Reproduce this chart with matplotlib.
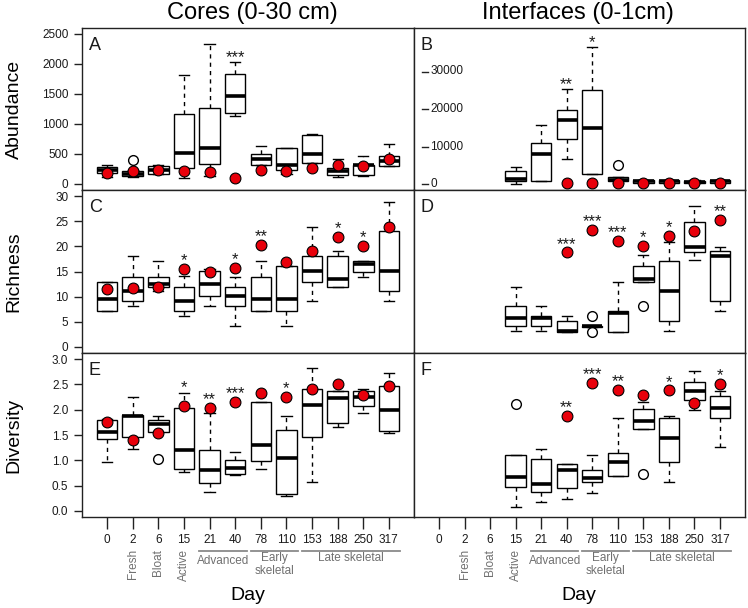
import numpy as np
import matplotlib.pyplot as plt
from matplotlib import transforms

plt.rcParams['font.family'] = ['Liberation Sans', 'DejaVu Sans']

days = ['0', '2', '6', '15', '21', '40', '78', '110', '153', '188', '250', '317']
pos = np.arange(1, 13)
n = None

# A - abundance, cores
A_lo = [120, 115, 160, 105, 130, 1130, 320, 165, 345, 120, 140, 300]
A_q1 = [180, 130, 165, 275, 335, 1180, 320, 235, 345, 150, 150, 300]
A_med = [235, 165, 230, 510, 605, 1470, 420, 320, 495, 220, 320, 380]
A_q3 = [290, 220, 305, 1160, 1270, 1830, 500, 600, 820, 270, 325, 470]
A_hi = [310, 235, 320, 1810, 2330, 2030, 635, 600, 840, 410, 470, 675]
A_red = [185, 225, 240, 225, 205, 100, 235, 215, 275, 310, 300, 410]
A_star = ['', '', '', '', '', '***', '', '', '', '', '', '']
A_out = {1: [400]}

# B - abundance, interfaces
B_lo = [n, n, n, 100, 900, 6750, 2800, 400, 150, 150, 150, 150]
B_q1 = [n, n, n, 730, 910, 12100, 2800, 700, 400, 400, 350, 400]
B_med = [n, n, n, 1450, 7900, 17000, 14850, 1000, 800, 800, 650, 750]
B_q3 = [n, n, n, 3430, 10900, 19700, 25000, 1900, 1000, 1000, 900, 1000]
B_hi = [n, n, n, 4420, 15850, 25300, 36500, 1900, 1200, 1200, 1100, 1200]
B_red = [n, n, n, n, n, 380, 190, 270, 300, 350, 250, 300]
B_star = ['', '', '', '', '', '**', '*', '', '', '', '', '']
B_out = {7: [5200]}

# C - richness, cores
C_lo = [7.1, 8.1, 11.05, 6.1, 8.1, 4.1, 7.1, 4.1, 9.1, 12.0, 14.0, 9.1]
C_q1 = [7.1, 9.1, 12.0, 7.1, 10.1, 8.1, 7.1, 7.1, 13.0, 12.0, 15.0, 11.05]
C_med = [9.6, 11.05, 12.6, 9.1, 12.6, 10.1, 9.6, 9.6, 15.1, 13.55, 16.5, 15.1]
C_q3 = [13.0, 14.0, 14.0, 12.0, 15.1, 12.0, 14.0, 16.0, 18.0, 18.0, 17.0, 23.0]
C_hi = [13.0, 18.0, 17.0, 14.2, 15.5, 14.0, 17.0, 16.0, 23.9, 19.0, 17.0, 28.8]
C_red = [11.6, 11.7, 12.0, 15.5, 15.0, 15.7, 20.3, 16.8, 19.1, 21.8, 20.1, 23.9]
C_star = ['', '', '', '*', '', '*', '**', '', '', '*', '*', '']
C_out = {}

# D - richness, interfaces
D_lo = [n, n, n, 3.2, 3.2, 3.0, 4.0, 3.0, 13.0, 3.2, 17.3, 7.1]
D_q1 = [n, n, n, 4.1, 4.1, 3.0, 4.0, 3.0, 13.0, 5.1, 18.9, 9.1]
D_med = [n, n, n, 5.8, 5.7, 3.2, 4.1, 6.8, 13.55, 11.05, 19.9, 18.0]
D_q3 = [n, n, n, 8.1, 6.1, 5.1, 4.2, 7.1, 16.0, 17.0, 24.9, 19.0]
D_hi = [n, n, n, 12.0, 8.1, 6.1, 4.2, 12.9, 18.2, 20.8, 28.0, 19.9]
D_red = [n, n, n, n, n, 18.8, 23.3, 21.1, 20.1, 22.1, 23.1, 25.3]
D_star = ['', '', '', '', '', '***', '***', '***', '*', '*', '', '**']
D_out = {6: [6.1, 3.0], 8: [8.1]}

# E - diversity, cores
E_lo = [0.97, 1.23, 1.55, 0.77, 0.38, 0.71, 0.83, 0.29, 0.58, 1.66, 1.93, 1.53]
E_q1 = [1.43, 1.47, 1.55, 0.83, 0.55, 0.73, 0.99, 0.33, 1.47, 1.73, 2.08, 1.57]
E_med = [1.55, 1.88, 1.71, 1.20, 0.81, 0.85, 1.30, 1.05, 2.09, 2.23, 2.25, 2.00]
E_q3 = [1.79, 1.89, 1.79, 2.03, 1.21, 1.00, 2.15, 1.60, 2.40, 2.37, 2.37, 2.47]
E_hi = [1.82, 2.25, 1.88, 2.33, 1.93, 1.16, 2.15, 1.87, 2.83, 2.37, 2.40, 2.73]
E_red = [1.76, 1.41, 1.53, 2.08, 2.03, 2.16, 2.33, 2.25, 2.41, 2.50, 2.30, 2.47]
E_star = ['', '', '', '*', '**', '***', '', '*', '', '', '', '']
E_out = {2: [1.03]}

# F - diversity, interfaces
F_lo = [n, n, n, 0.08, 0.18, 0.23, 0.35, 0.69, 1.61, 0.58, 1.99, 1.27]
F_q1 = [n, n, n, 0.48, 0.38, 0.45, 0.57, 0.69, 1.61, 0.96, 2.20, 1.83]
F_med = [n, n, n, 0.68, 0.53, 0.80, 0.65, 0.97, 1.77, 1.45, 2.37, 2.03]
F_q3 = [n, n, n, 1.11, 1.03, 0.93, 0.80, 1.15, 2.01, 1.83, 2.55, 2.28]
F_hi = [n, n, n, 1.11, 1.23, 0.93, 1.11, 1.83, 2.16, 1.88, 2.77, 2.37]
F_red = [n, n, n, n, n, 1.87, 2.53, 2.39, 2.30, 2.38, 2.13, 2.51]
F_star = ['', '', '', '', '', '**', '***', '**', '', '*', '', '*']
F_out = {3: [2.11], 8: [0.73]}

stage_rot = [(1, 'Fresh'), (2, 'Bloat'), (3, 'Active')]
stage_grp = [('Advanced', 4, 5, -31.7), ('Early\nskeletal', 6, 7, -34.2), ('Late skeletal', 8, 11, -29.5)]

W, H = 748, 608
fig = plt.figure(figsize=(W / 100, H / 100), dpi=100)

def box(x0, y0, x1, y1):
    return fig.add_axes([x0 / W, 1 - y1 / H, (x1 - x0) / W, (y1 - y0) / H])

rows = [(28, 190), (190, 353), (353, 517)]
axA, axB = box(82, 28, 414, 190), box(414, 28, 745, 190)
axC, axD = box(82, 190, 414, 353), box(414, 190, 745, 353)
axE, axF = box(82, 353, 414, 517), box(414, 353, 745, 517)

ink = '#1a1a1a'


def draw_panel(ax, lo, q1, med, q3, hi, red, stars, outl, ylim, letter):
    stats, where = [], []
    for i in range(12):
        if med[i] is None:
            continue
        stats.append(dict(whislo=lo[i], q1=q1[i], med=med[i], q3=q3[i],
                          whishi=hi[i], fliers=outl.get(i, [])))
        where.append(pos[i])
    ax.bxp(stats, positions=where, widths=0.8, capwidths=0.4, patch_artist=True,
           boxprops=dict(facecolor='white', edgecolor='black', lw=1.0),
           medianprops=dict(color='black', lw=2.6, solid_capstyle='butt'),
           whiskerprops=dict(color='black', lw=1.0, ls=(0, (3, 3))),
           capprops=dict(color='black', lw=1.0),
           flierprops=dict(marker='o', mfc='white', mec='black', ms=7, mew=1.0))
    rx = [pos[i] for i in range(12) if red[i] is not None]
    ry = [v for v in red if v is not None]
    ax.plot(rx, ry, 'o', color='#e8000b', mec='black', mew=0.8, ms=7.8, zorder=5)
    for i, s in enumerate(stars):
        if not s:
            continue
        if red[i] is not None and red[i] >= hi[i]:
            anchor, off = red[i], 2.7
        else:
            anchor, off = hi[i], 0.3
        ax.annotate(s, (pos[i], anchor), xytext=(0, off), textcoords='offset points',
                    ha='center', va='baseline', fontsize=12, color=ink)
    ax.set_xlim(0.02, 12.98)
    ax.set_ylim(*ylim)
    ax.text(0.021, 0.945, letter, transform=ax.transAxes, ha='left', va='top',
            fontsize=13, color=ink)
    for sp in ax.spines.values():
        sp.set_linewidth(1.0)
        sp.set_color('#222222')


draw_panel(axA, A_lo, A_q1, A_med, A_q3, A_hi, A_red, A_star, A_out, (-100, 2600), 'A')
draw_panel(axB, B_lo, B_q1, B_med, B_q3, B_hi, B_red, B_star, B_out, (-1600, 41600), 'B')
draw_panel(axC, C_lo, C_q1, C_med, C_q3, C_hi, C_red, C_star, C_out, (-1.2, 31.2), 'C')
draw_panel(axD, D_lo, D_q1, D_med, D_q3, D_hi, D_red, D_star, D_out, (-1.2, 31.2), 'D')
draw_panel(axE, E_lo, E_q1, E_med, E_q3, E_hi, E_red, E_star, E_out, (-0.12, 3.12), 'E')
draw_panel(axF, F_lo, F_q1, F_med, F_q3, F_hi, F_red, F_star, F_out, (-0.12, 3.12), 'F')

# left y axes
axA.set_yticks([0, 500, 1000, 1500, 2000, 2500])
axC.set_yticks([0, 5, 10, 15, 20, 25, 30])
e_ticks = [0.0, 0.5, 1.0, 1.5, 2.0, 2.5, 3.0]
axE.set_yticks(e_ticks, [f'{v:.1f}' for v in e_ticks])
for ax in (axA, axC, axE):
    ax.tick_params(axis='y', length=5.8, width=1.0, pad=4, labelsize=8.5,
                   labelcolor=ink, color='#222222')

# B has its own axis drawn inside the panel
for ax in (axB, axD, axF):
    ax.set_yticks([])
trB = transforms.blended_transform_factory(axB.transAxes, axB.transData)
for v in [0, 10000, 20000, 30000]:
    axB.plot([0.024, 0.043], [v, v], transform=trB, color='#222222', lw=1.0)
    axB.text(0.049, v, str(v), transform=trB, ha='left', va='center',
             fontsize=8.5, color=ink)

for ax in (axA, axB, axC, axD):
    ax.set_xticks([])

grey = '#707070'
for ax in (axE, axF):
    ax.set_xticks(pos, days)
    ax.tick_params(axis='x', length=8.6, width=1.0, pad=3.5, labelsize=8.5,
                   labelcolor=ink, color='#222222')
    tr = transforms.blended_transform_factory(ax.transData, ax.transAxes)
    for i, lab in stage_rot:
        ax.annotate(lab, (pos[i], 0), xycoords=tr, xytext=(0, -23),
                    textcoords='offset points', rotation=90, ha='center',
                    va='top', fontsize=8.5, color=grey)
    for lab, a, b, dy in stage_grp:
        x0, x1 = pos[a] - 0.4, pos[b] + 0.45
        ax.plot([x0, x1], [-0.209, -0.209], transform=tr, color='#8a8a8a',
                lw=1.3, clip_on=False)
        ax.annotate(lab, ((x0 + x1) / 2, 0), xycoords=tr, xytext=(0, dy),
                    textcoords='offset points', ha='center', va='center',
                    fontsize=8.5, color=grey, linespacing=1.05)

fig.text(252 / W, 1 - 13 / H, 'Cores (0-30 cm)', ha='center', va='center', fontsize=17)
fig.text(578 / W, 1 - 13 / H, 'Interfaces (0-1cm)', ha='center', va='center', fontsize=17)
for lab, (y0, y1) in zip(['Abundance', 'Richness', 'Diversity'], rows):
    fig.text(14 / W, 1 - (y0 + y1) / 2 / H, lab, rotation=90, ha='center',
             va='center', fontsize=14)
fig.text(248 / W, 1 - 595 / H, 'Day', ha='center', va='center', fontsize=14)
fig.text(579 / W, 1 - 595 / H, 'Day', ha='center', va='center', fontsize=14)

fig.savefig('out.png', dpi=100)
